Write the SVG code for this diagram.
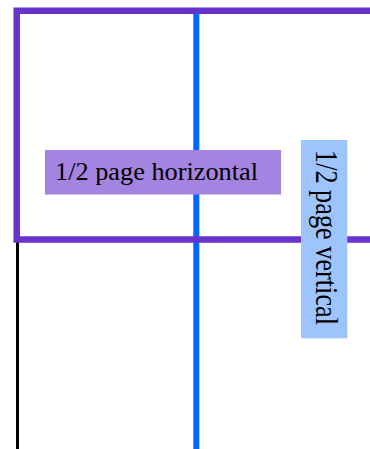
<svg xmlns="http://www.w3.org/2000/svg" width="370" height="449" viewBox="0 0 370 449">
<style>
.lbl{font-family:"Liberation Serif","Times New Roman",serif;fill:#000}
</style>
<rect width="370" height="449" fill="#fff"/>
<g id="connectors">
<line x1="17.5" y1="240" x2="17.5" y2="449" stroke="#000" stroke-width="3"/>
<line x1="196.3" y1="12" x2="196.3" y2="449" stroke="#0066ff" stroke-width="6"/>
</g>
<g id="frame">
<path d="M375 10.7 H16.7 V239.6 H375" fill="none" stroke="#6633cc" stroke-width="6.5"/>
</g>
<g id="half-horizontal">
<rect x="45" y="150" width="236" height="44.5" fill="#a484e0"/>
<text class="lbl" x="55" y="180" font-size="26" textLength="203" lengthAdjust="spacingAndGlyphs">1/2 page horizontal</text>
</g>
<g id="half-vertical">
<rect x="301" y="140" width="46.3" height="198.3" fill="#9ec4fc"/>
<text class="lbl" transform="translate(315.7 150) rotate(90)" x="0" y="0" font-size="30.5" textLength="175" lengthAdjust="spacingAndGlyphs">1/2 page vertical</text>
</g>
</svg>
